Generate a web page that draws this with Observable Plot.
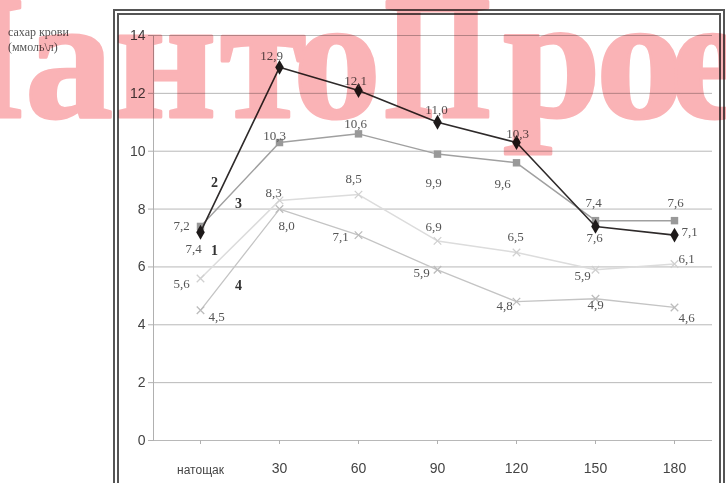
<!DOCTYPE html>
<html><head><meta charset="utf-8">
<script src="https://cdn.jsdelivr.net/npm/d3@7"></script>
<script src="https://cdn.jsdelivr.net/npm/@observablehq/plot@0.6"></script>
<style>
html,body{margin:0;padding:0;background:#fff;}
#wrap{position:relative;width:726px;height:483px;overflow:hidden;background:#fff;isolation:isolate;}
#frame{position:absolute;left:113px;top:9px;width:600px;height:485px;border:6px double #555;}
#chart{position:absolute;left:0;top:0;}
.ytitle{position:absolute;left:8px;font-family:"Liberation Serif",serif;font-size:12px;color:#555;line-height:14px;}
#wm{position:absolute;left:0;top:0;pointer-events:none;mix-blend-mode:multiply;}
#wm text{font-family:"Liberation Serif";font-weight:bold;font-size:176px;fill:#fab3b6;stroke:#fab3b6;stroke-width:3px;stroke-linejoin:round;}
</style></head>
<body><div id="wrap">
<div id="frame"></div>
<div id="chart"></div>
<div class="ytitle" style="top:25px">сахар крови</div>
<div class="ytitle" style="top:40px">(ммоль\л)</div>
<svg id="wm" width="726" height="483">
<text transform="translate(-84,117) scale(0.78,1)">П</text>
<text x="25 115 220 293" y="117">анто</text>
<text transform="translate(384,117) scale(0.78,1)">П</text>
<text x="503 596 670 752 842" y="117">роект</text>
</svg>
</div>
<script>
const categories = ["натощак","30","60","90","120","150","180"];
const yTicks = [0,2,4,6,8,10,12,14];
// series values (ммоль/л)
const series1 = [5.6,8.3,8.5,6.9,6.5,5.9,6.1];
const series2 = [7.2,12.9,12.1,11.0,10.3,7.4,7.1];
const series3 = [7.4,10.3,10.6,9.9,9.6,7.6,7.6];
const series4 = [4.5,8.0,7.1,5.9,4.8,4.9,4.6];
// data label texts as printed
const labels1 = ["5,6","8,3","8,5","6,9","6,5","5,9","6,1"];
const labels2 = ["7,2","12,9","12,1","11,0","10,3","7,6","7,1"];
const labels3 = ["7,4","10,3","10,6","9,9","9,6","7,4","7,6"];
const labels4 = ["4,5","8,0","7,1","5,9","4,8","4,9","4,6"];
const seriesNames = ["1","2","3","4"];

// layout: label offsets (px)
const off1 = [[-19,5],[-6,-8],[-5,-16],[-4,-14],[-1,-16],[-13,6],[12,-5]];
const off2 = [[-19,-6],[-8,-11],[-3,-10],[-1,-12],[1,-9],[-1,11],[15,-3]];
const off3 = [[-7,22],[-5,-7],[-3,-10],[-4,29],[-14,21],[-2,-18],[1,-18]];
const off4 = [[16,7],[7,17],[-18,2],[-16,3],[-12,4],[0,6],[12,10]];
const nameOff = [[14,-28],[14,-50],[38,-23],[38,-25]];

const allSeries = [series1, series2, series3, series4];
const allLabels = [labels1, labels2, labels3, labels4];
const allOff = [off1, off2, off3, off4];
const styles = [
  {stroke:"#dcdcdc", width:1.5, symbol:"times", r:3.5, fill:"none", mstroke:"#d0d0d0"},
  {stroke:"#2e2a2a", width:1.6, symbol:"diamond", r:4.5, fill:"#1e1a1a", mstroke:"none"},
  {stroke:"#a0a0a0", width:1.5, symbol:"square", r:4.2, fill:"#999", mstroke:"none"},
  {stroke:"#c4c4c4", width:1.3, symbol:"times", r:3.5, fill:"none", mstroke:"#bcbcbc"}
];

const rows = [];
allSeries.forEach((s, si) => s.forEach((v, i) => rows.push({series: seriesNames[si], si, cat: categories[i], v, label: allLabels[si][i], dx: allOff[si][i][0], dy: allOff[si][i][1]})));

const axisFont = "Liberation Sans, Arial, sans-serif";
const marks = [
  Plot.gridY(yTicks.slice(1), {stroke:"#b8b8b8", strokeOpacity:1}),
  Plot.ruleY([0], {stroke:"#b8b8b8"}),
  Plot.frame({anchor:"left", stroke:"#b0b0b0"}),
  Plot.axisY(yTicks, {label:null, tickSize:5, tickPadding:3, fontSize:14, fill:"#444", stroke:"#b0b0b0", fontFamily:axisFont}),
  Plot.axisX(["натощак"], {label:null, tickSize:4, tickPadding:21, fontSize:12, fill:"#444", stroke:"#b0b0b0", fontFamily:axisFont}),
  Plot.axisX(categories.slice(1), {label:null, tickSize:4, tickPadding:19, fontSize:14, fill:"#444", stroke:"#b0b0b0", fontFamily:axisFont})
];
[0,3,2,1].forEach(si => {
  const st = styles[si];
  const d = rows.filter(r => r.si === si);
  marks.push(Plot.line(d, {x:"cat", y:"v", stroke:st.stroke, strokeWidth:st.width}));
  marks.push(Plot.dot(d, {x:"cat", y:"v", symbol:st.symbol, r:st.r, fill:st.fill, stroke:st.mstroke, strokeWidth:1.3}));
});
rows.forEach(r => {
  marks.push(Plot.text([r], {x:"cat", y:"v", text:"label", dx:r.dx, dy:r.dy, fontSize:13, fill:"#555", fontFamily:"Liberation Serif, serif", lineAnchor:"middle"}));
});
seriesNames.forEach((n, si) => {
  marks.push(Plot.text([{cat: categories[0], v: allSeries[si][0], n}], {x:"cat", y:"v", text:"n", dx:nameOff[si][0], dy:nameOff[si][1], fontSize:14, fontWeight:"bold", fill:"#333", fontFamily:"Liberation Serif, serif", lineAnchor:"middle"}));
});

const chart = Plot.plot({
  width: 726, height: 483,
  marginLeft: 153, marginRight: 14, marginTop: 35, marginBottom: 43,
  style: {background:"transparent", fontFamily:axisFont},
  x: {type:"point", domain: categories, range:[199,675], padding:0, axis:null},
  y: {domain:[0,14], axis:null},
  marks
});
document.getElementById("chart").appendChild(chart);
</script>
</body></html>
